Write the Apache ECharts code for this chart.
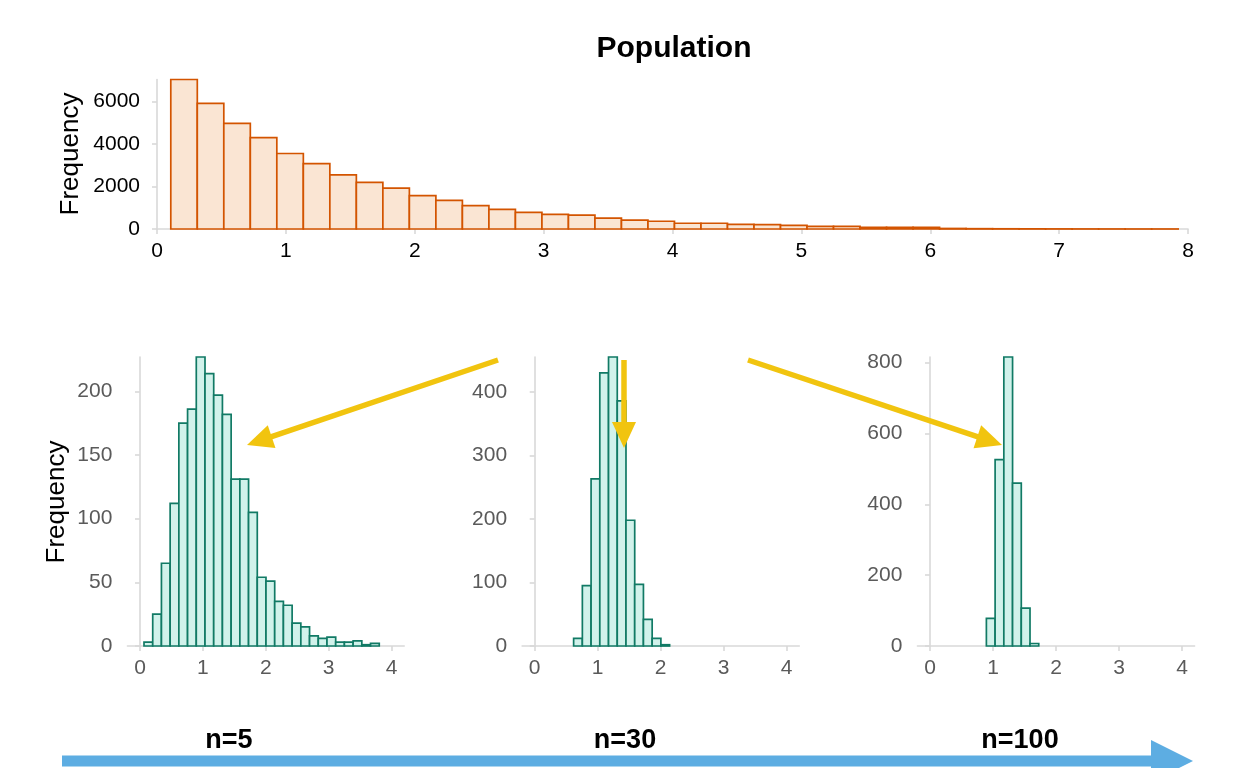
<!DOCTYPE html>
<html><head><meta charset="utf-8">
<script src="https://cdn.jsdelivr.net/npm/echarts@6/dist/echarts.min.js"></script>
<style>html,body{margin:0;padding:0;background:#fff}#chart{width:1248px;height:768px}</style>
</head><body><div id="chart"></div>
<script>
// ---------- data ----------
const popTitle = 'Population';
const yAxisTitle = 'Frequency';
const popBinStart = 0.107;
const popBinWidth = 0.2057;
const popCounts = [7030, 5910, 4965, 4300, 3550, 3070, 2545, 2190, 1920, 1570, 1350, 1095, 920, 785,
  690, 650, 508, 413, 365, 270, 270, 222, 206, 175, 127, 127, 80, 80, 80, 25, 15, 10, 8, 5, 3, 2, 1, 1];
const popXTicks = [0, 1, 2, 3, 4, 5, 6, 7, 8];
const popYTicks = [0, 2000, 4000, 6000];

const sampleBinStart = 0.064;
const sampleBinWidth = 0.1385;
const sampleLabels = ['n=5', 'n=30', 'n=100'];
const n5FirstBin = 0;
const n5Counts = [3, 25, 65, 112, 175, 186, 227, 214, 197, 182, 131, 131, 105, 54, 51, 35, 32, 18, 15, 8, 6, 7, 3, 3, 4, 1, 2];
const n30FirstBin = 4;
const n30Counts = [12, 95, 263, 430, 455, 386, 198, 97, 42, 12, 2];
const n100FirstBin = 6;
const n100Counts = [78, 526, 816, 460, 107, 7];
const sampleXTicks = [0, 1, 2, 3, 4];
const n5YTicks = [0, 50, 100, 150, 200];
const n30YTicks = [0, 100, 200, 300, 400];
const n100YTicks = [0, 200, 400, 600, 800];

// ---------- build ----------
function bins(counts, start, width, first) {
  return counts.map((c, i) => [start + (first + i) * width, start + (first + i + 1) * width, c]);
}
const FONT = '"Liberation Sans", Arial, sans-serif';
const AXIS_GRAY = '#D9D9D9';
const plain = v => String(v);

function histSeries(idx, data, stroke, fill) {
  return {
    type: 'custom', xAxisIndex: idx, yAxisIndex: idx,
    encode: { x: [0, 1], y: 2 },
    data: data,
    renderItem: function (params, api) {
      const p0 = api.coord([api.value(0), api.value(2)]);
      const p1 = api.coord([api.value(1), 0]);
      return {
        type: 'rect',
        shape: { x: p0[0], y: p0[1], width: p1[0] - p0[0], height: p1[1] - p0[1] },
        style: { fill: fill, stroke: stroke, lineWidth: 1.7 }
      };
    },
    clip: false, silent: true
  };
}

function xAxis(idx, min, max, ticks, color) {
  return {
    type: 'value', gridIndex: idx, min: min, max: max,
    axisLine: { show: true, onZero: false, lineStyle: { color: AXIS_GRAY, width: 1.6 } },
    axisTick: { show: true, length: 5, customValues: ticks, lineStyle: { color: AXIS_GRAY, width: 1.6 } },
    axisLabel: { customValues: ticks, formatter: plain, color: color, fontSize: 21, fontFamily: FONT, margin: 12 },
    splitLine: { show: false }
  };
}
function yAxis(idx, ticks, color, margin) {
  return {
    type: 'value', gridIndex: idx, min: 0, max: 'dataMax',
    axisLine: { show: true, lineStyle: { color: AXIS_GRAY, width: 1.6 } },
    axisTick: { show: true, length: 5, customValues: ticks, lineStyle: { color: AXIS_GRAY, width: 1.6 } },
    axisLabel: { customValues: ticks, formatter: plain, color: color, fontSize: 21, fontFamily: FONT, margin: margin },
    splitLine: { show: false }
  };
}

function arrow(x1, y1, x2, y2, color, w, hl, hw) {
  const dx = x2 - x1, dy = y2 - y1, L = Math.sqrt(dx * dx + dy * dy);
  const ux = dx / L, uy = dy / L, px = -uy, py = ux;
  const bx = x2 - ux * hl, by = y2 - uy * hl;
  return [
    { type: 'line', z: 100, shape: { x1: x1, y1: y1, x2: x2 - ux * hl * 0.7, y2: y2 - uy * hl * 0.7 },
      style: { stroke: color, lineWidth: w } },
    { type: 'polygon', z: 100, shape: { points: [[x2, y2], [bx + px * hw, by + py * hw], [bx - px * hw, by - py * hw]] },
      style: { fill: color } }
  ];
}

const YEL = '#F1C40F';
const graphics = [
  { type: 'text', x: 674, y: 49, z: 100, style: { text: popTitle, font: 'bold 30px ' + FONT, fill: '#000', align: 'center', verticalAlign: 'middle', textAlign: 'center', textVerticalAlign: 'middle' } },
  { type: 'text', x: 71, y: 154, rotation: Math.PI / 2, z: 100, style: { text: yAxisTitle, font: '26px ' + FONT, fill: '#000', align: 'center', verticalAlign: 'middle', textAlign: 'center', textVerticalAlign: 'middle' } },
  { type: 'text', x: 57, y: 502, rotation: Math.PI / 2, z: 100, style: { text: yAxisTitle, font: '26px ' + FONT, fill: '#000', align: 'center', verticalAlign: 'middle', textAlign: 'center', textVerticalAlign: 'middle' } },
  ...[229, 625, 1020].map((x, i) => ({ type: 'text', x: x, y: 741, z: 100, style: { text: sampleLabels[i], font: 'bold 27px ' + FONT, fill: '#000', align: 'center', verticalAlign: 'middle', textAlign: 'center', textVerticalAlign: 'middle' } })),
  ...arrow(498, 360, 247, 445, YEL, 5.5, 26, 12),
  ...arrow(624, 360, 624, 448, YEL, 5.5, 26, 12),
  ...arrow(748, 360, 1002, 445, YEL, 5.5, 26, 12),
  ...arrow(62, 761, 1193, 761, '#5DADE2', 11, 42, 21)
];

const option = {
  animation: false,
  backgroundColor: '#fff',
  grid: [
    { left: 157, top: 79.5, width: 1031, height: 149.5 },
    { left: 127.4, top: 357, width: 276.8, height: 289 },
    { left: 522.1, top: 357, width: 277.2, height: 289 },
    { left: 917.4, top: 357, width: 277.2, height: 289 }
  ],
  xAxis: [
    xAxis(0, 0, 8, popXTicks, '#000'),
    xAxis(1, -0.2, 4.2, sampleXTicks, '#5a5a5a'),
    xAxis(2, -0.2, 4.2, sampleXTicks, '#5a5a5a'),
    xAxis(3, -0.2, 4.2, sampleXTicks, '#5a5a5a')
  ],
  yAxis: [
    yAxis(0, popYTicks, '#000', 17),
    yAxis(1, n5YTicks, '#5a5a5a', 15),
    yAxis(2, n30YTicks, '#5a5a5a', 15),
    yAxis(3, n100YTicks, '#5a5a5a', 15)
  ],
  series: [
    histSeries(0, bins(popCounts, popBinStart, popBinWidth, 0), '#D35400', '#FAE5D3'),
    histSeries(1, bins(n5Counts, sampleBinStart, sampleBinWidth, n5FirstBin), '#117A65', '#D1F2EB'),
    histSeries(2, bins(n30Counts, sampleBinStart, sampleBinWidth, n30FirstBin), '#117A65', '#D1F2EB'),
    histSeries(3, bins(n100Counts, sampleBinStart, sampleBinWidth, n100FirstBin), '#117A65', '#D1F2EB')
  ],
  graphic: graphics
};
const chart = echarts.init(document.getElementById('chart'), null, { renderer: 'canvas' });
chart.setOption(option);
</script>
</body></html>
